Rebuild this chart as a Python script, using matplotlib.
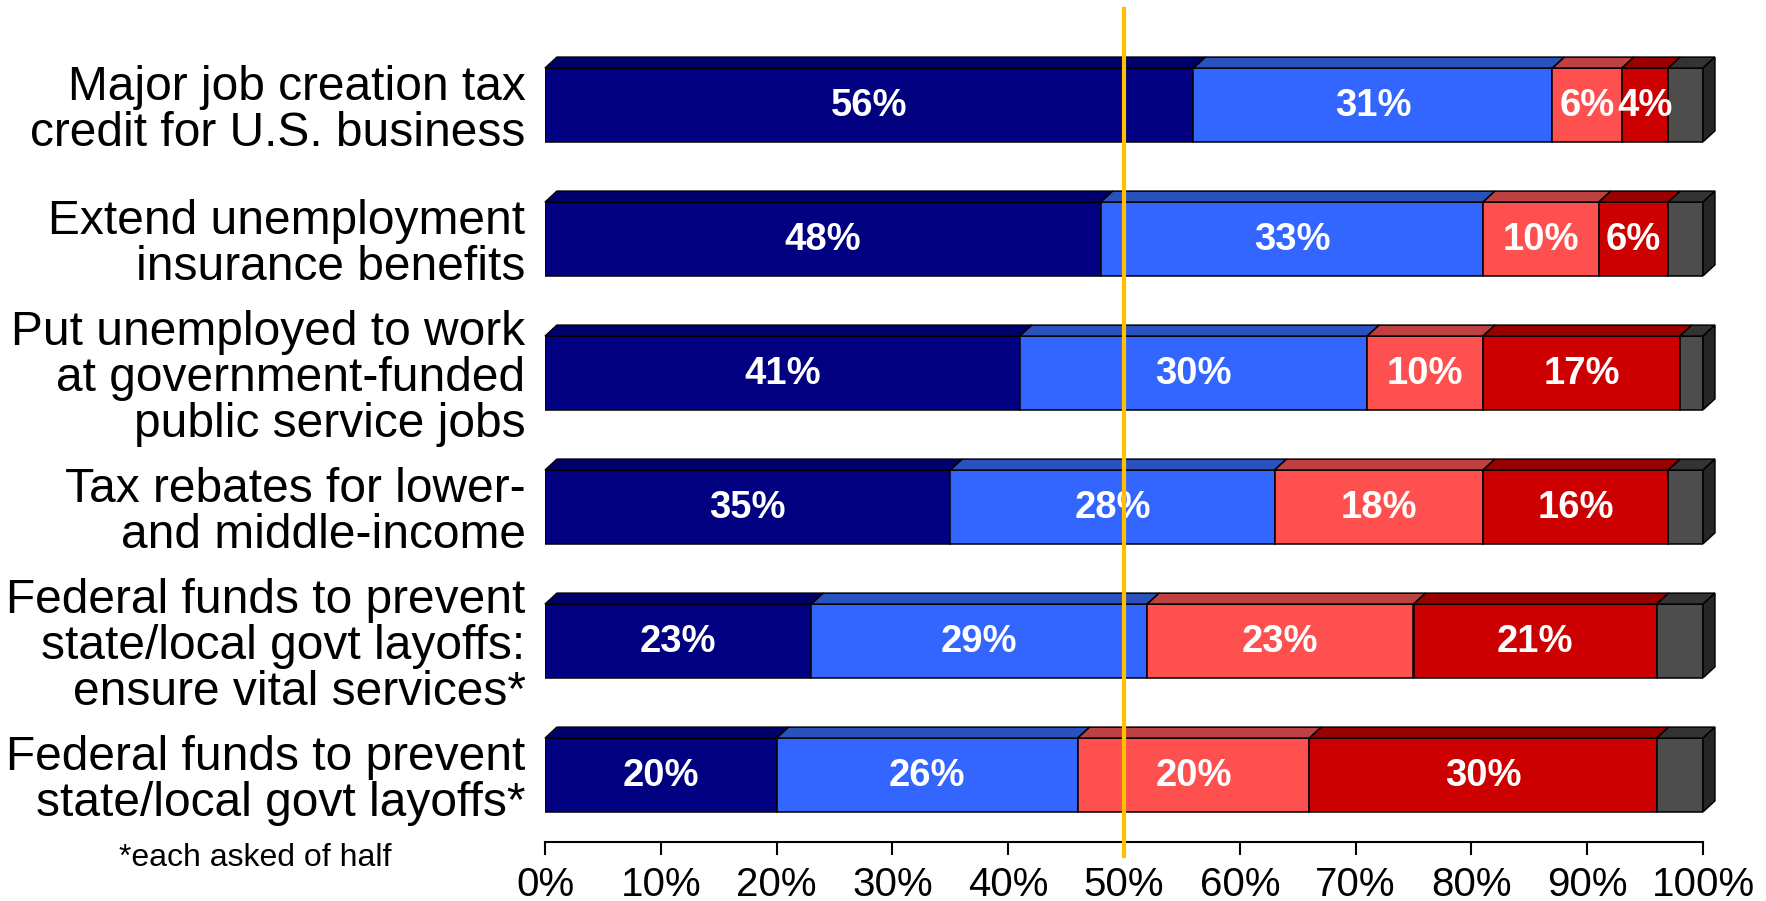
import matplotlib.pyplot as plt
from matplotlib.patches import Polygon, Rectangle

# survey items, top to bottom
categories = [
    "Major job creation tax\ncredit for U.S. business",
    "Extend unemployment\ninsurance benefits",
    "Put unemployed to work\nat government-funded\npublic service jobs",
    "Tax rebates for lower-\nand middle-income",
    "Federal funds to prevent\nstate/local govt layoffs:\nensure vital services*",
    "Federal funds to prevent\nstate/local govt layoffs*",
]
strongly_favor = [56, 48, 41, 35, 23, 20]
somewhat_favor = [31, 33, 30, 28, 29, 26]
somewhat_oppose = [6, 10, 10, 18, 23, 20]
strongly_oppose = [4, 6, 17, 16, 21, 30]
not_sure = [3, 3, 2, 3, 4, 4]
xticks = list(range(0, 101, 10))

series = [strongly_favor, somewhat_favor, somewhat_oppose, strongly_oppose, not_sure]
front_colors = ['#000080', '#3366FF', '#FF5050', '#CC0000', '#4D4D4D']
top_colors = ['#00006B', '#2A52BE', '#BF4040', '#990000', '#333333']
side_color = '#262626'
labelled = 4  # the "not sure" slice carries no label

BAR_H = 0.55
DX = 1.03    # depth of the fake 3d box, in percent
DY = 0.082   # depth in row units

plt.rcParams['font.family'] = ['Liberation Sans', 'DejaVu Sans']

W, H = 1766, 901
fig = plt.figure(figsize=(W / 100, H / 100), dpi=100)
ax = fig.add_axes([545 / W, 1 - 842 / H, 1158 / W, 833 / H])
ax.set_xlim(0, 100)
ax.set_ylim(5.5, -0.716)


def draw_row(ax, row, values):
    top = row - BAR_H / 2
    bottom = row + BAR_H / 2
    left = 0
    for j, w in enumerate(values):
        ax.add_patch(Rectangle((left, top), w, BAR_H, fc=front_colors[j],
                               ec='black', lw=1.1, zorder=2))
        ax.add_patch(Polygon([(left, top), (left + DX, top - DY),
                              (left + w + DX, top - DY), (left + w, top)],
                             closed=True, fc=top_colors[j], ec='black',
                             lw=1.1, zorder=2, clip_on=False))
        if j < labelled:
            ax.text(left + w / 2, row + 0.01, f'{w}%', ha='center',
                    va='center', color='white', fontweight='bold',
                    fontsize=27.5, zorder=4)
        left += w
    # right-hand side of the box
    ax.add_patch(Polygon([(left, top), (left + DX, top - DY),
                          (left + DX, bottom - DY), (left, bottom)],
                         closed=True, fc=side_color, ec='black', lw=1.1,
                         zorder=2, clip_on=False))


for i in range(len(categories)):
    draw_row(ax, i, [s[i] for s in series])

ax.axvline(50, ymin=-14 / 833, ymax=1, color='#FFC000', lw=3,
           clip_on=False, zorder=5)

for side in ['top', 'right', 'left']:
    ax.spines[side].set_visible(False)
ax.spines['bottom'].set_linewidth(1.5)

ax.set_xticks(xticks)
ax.set_xticklabels([f'{v}%' for v in xticks], fontsize=29)
ax.tick_params(axis='x', direction='out', length=9.5, width=1.5, pad=8)

ax.set_yticks(range(len(categories)))
ax.set_yticklabels(categories, fontsize=34.5, linespacing=1.02)
ax.tick_params(axis='y', length=0, pad=14)

fig.text(255 / W, 1 - 858 / H, '*each asked of half', ha='center',
         va='center', fontsize=23)

fig.savefig('out.png', dpi=100)
